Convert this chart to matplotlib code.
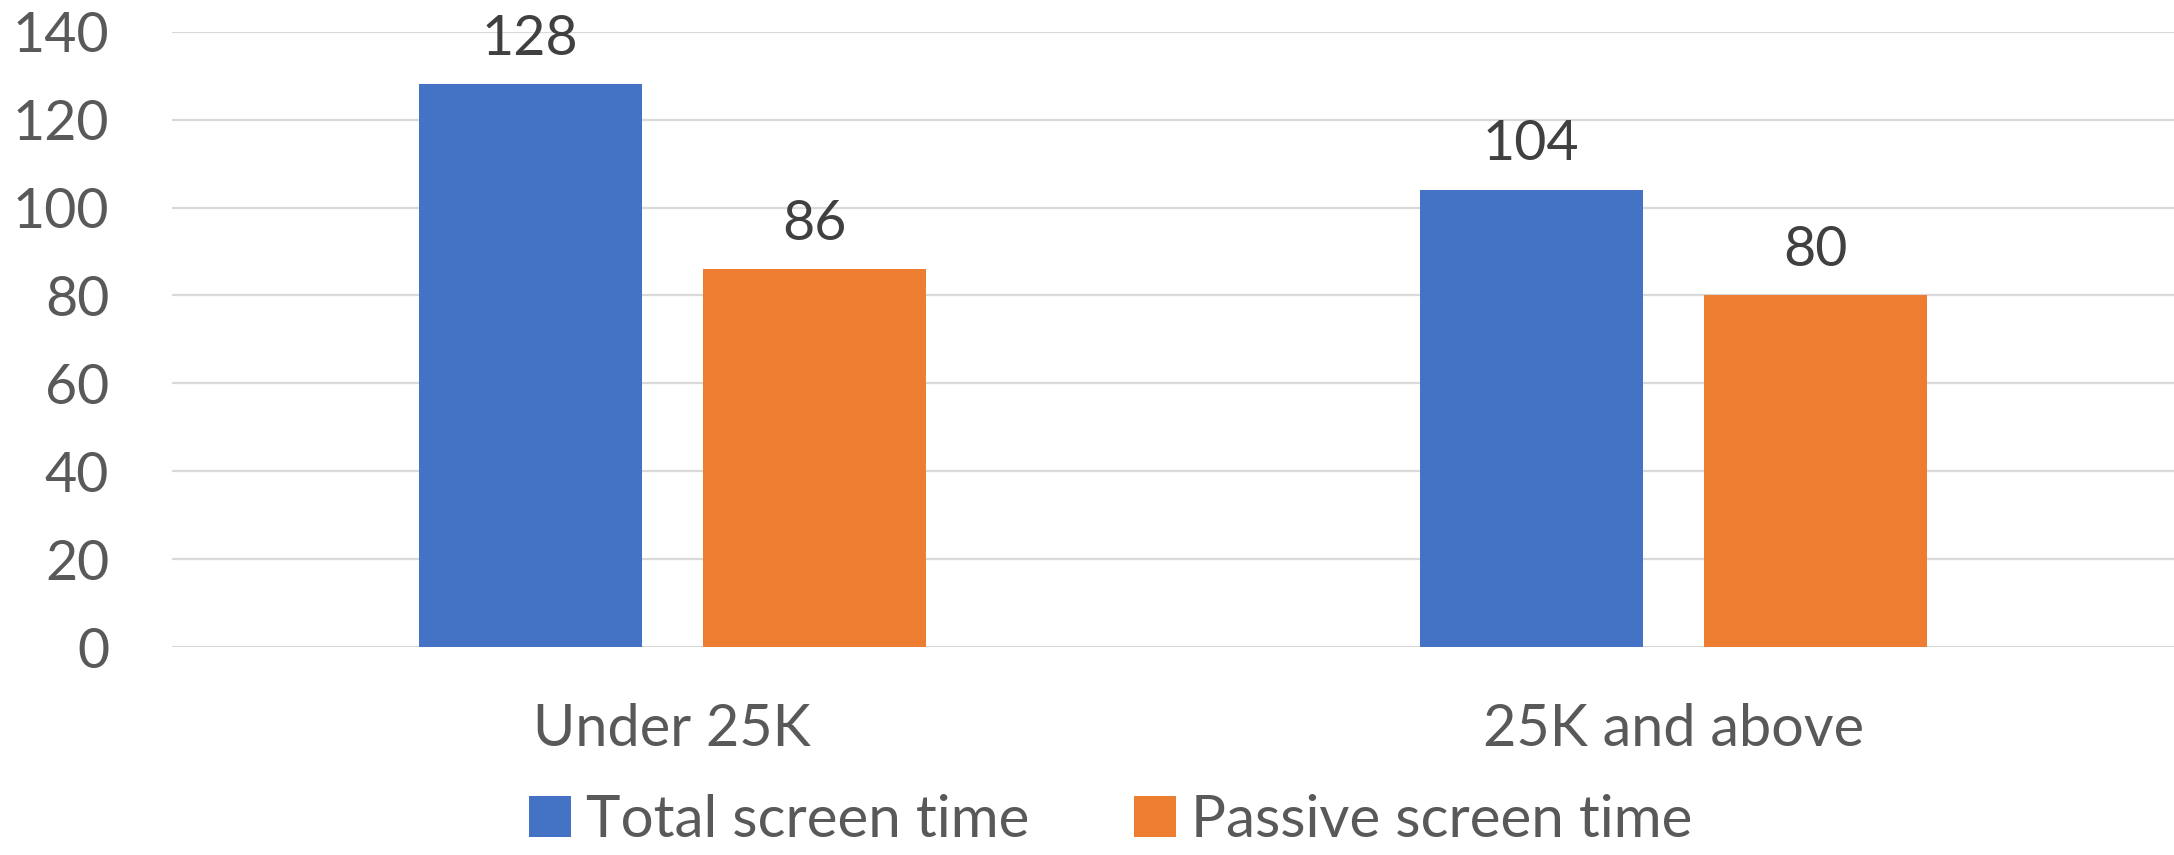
import matplotlib
matplotlib.use('Agg')
import matplotlib.pyplot as plt
import numpy as np

plt.rcParams['font.family'] = ['Lato', 'DejaVu Sans']

categories = ['Under 25K', '25K and above']
total_time = [128, 104]
passive_time = [86, 80]
series_names = ['Total screen time', 'Passive screen time']
yticks = [0, 20, 40, 60, 80, 100, 120, 140]

blue = '#4472c4'
orange = '#ed7d31'

fig = plt.figure(figsize=(21.74, 8.55), dpi=100)
ax = fig.add_axes([0.079, 0.243, 0.921, 0.72])

x = np.arange(len(categories))
w = 0.223
off = 0.142
b1 = ax.bar(x - off, total_time, w, color=blue, label=series_names[0], zorder=3)
b2 = ax.bar(x + off, passive_time, w, color=orange, label=series_names[1], zorder=3)

for bars in (b1, b2):
    ax.bar_label(bars, padding=14, fontsize=40, color='#404040')

ax.set_xlim(-0.5, 1.5)
ax.set_ylim(0, 140)
ax.set_yticks(yticks)
ax.set_xticks(x)
ax.set_xticklabels(categories)
ax.yaxis.grid(True, color='#d9d9d9', linewidth=1.6, zorder=0)
for s in ax.spines.values():
    s.set_visible(False)
ax.tick_params(axis='y', length=0, pad=45, labelsize=40, labelcolor='#595959')
ax.tick_params(axis='x', length=0, pad=40, labelsize=41.5, labelcolor='#595959')

leg = fig.legend(handles=[b1, b2], loc='lower center', bbox_to_anchor=(0.511, -0.052),
                 ncol=2, frameon=False, fontsize=42, handlelength=0.72, handleheight=0.72,
                 handletextpad=0.25, columnspacing=1.8, labelcolor='#595959')

fig.savefig('out.png', dpi=100)
